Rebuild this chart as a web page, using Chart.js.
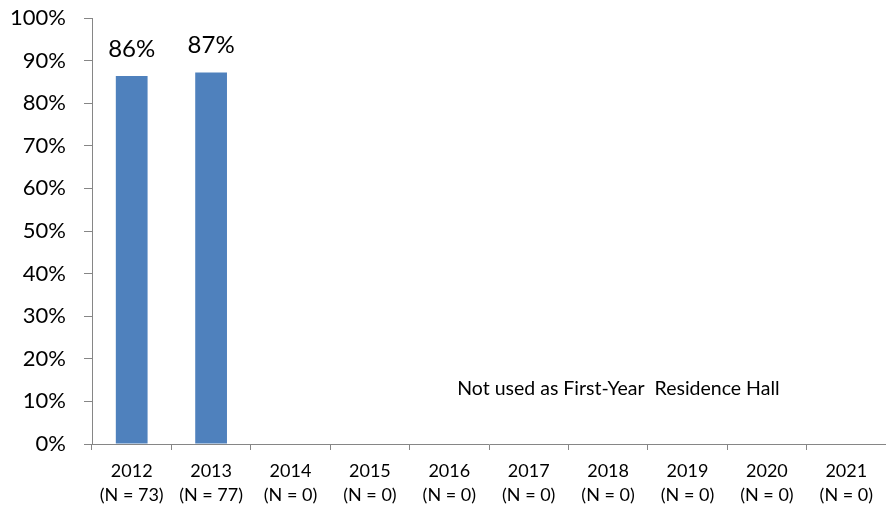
<!DOCTYPE html>
<html>
<head>
<meta charset="utf-8">
<script src="https://cdn.jsdelivr.net/npm/chart.js@4/dist/chart.umd.min.js"></script>
<style>
html,body{margin:0;padding:0;background:#fff;}
#wrap{width:886px;height:506px;}
</style>
</head>
<body>
<div id="wrap"><canvas id="c" width="886" height="506"></canvas></div>
<script>
const years = ['2012','2013','2014','2015','2016','2017','2018','2019','2020','2021'];
const nCounts = [73, 77, 0, 0, 0, 0, 0, 0, 0, 0];
const satisfaction = [86.4, 87.2, null, null, null, null, null, null, null, null];
const valueLabels = ['86%', '87%', '', '', '', '', '', '', '', ''];
const yTicks = [0,10,20,30,40,50,60,70,80,90,100];
const note = 'Not used as First-Year  Residence Hall';
const noteX = 4.1;   // category index position (left edge of text)
const noteY = 13.0;  // percent

const FONT = 'Lato, "Open Sans", sans-serif';
const AXIS = '#868686';

const labelPlugin = {
  id: 'labels',
  afterDatasetsDraw(chart) {
    const ctx = chart.ctx;
    const meta = chart.getDatasetMeta(0);
    ctx.save();
    ctx.fillStyle = '#000';
    ctx.font = '24px ' + FONT;
    ctx.textAlign = 'center';
    ctx.textBaseline = 'middle';
    meta.data.forEach((bar, i) => {
      if (satisfaction[i] == null) return;
      ctx.fillText(valueLabels[i], bar.x, bar.y - 27);
    });
    const xs = chart.scales.x, ys = chart.scales.y;
    ctx.font = '19.5px ' + FONT;
    ctx.textAlign = 'left';
    const x0 = xs.getPixelForValue(0), x1 = xs.getPixelForValue(1);
    ctx.fillText(note, x0 + (x1 - x0) * noteX, ys.getPixelForValue(noteY));
    ctx.restore();
  }
};

new Chart(document.getElementById('c'), {
  type: 'bar',
  data: {
    labels: years.map((y, i) => [y, '(N = ' + nCounts[i] + ')']),
    datasets: [{
      data: satisfaction,
      backgroundColor: '#4F81BD',
      borderWidth: 0,
      categoryPercentage: 1,
      barPercentage: 0.4
    }]
  },
  options: {
    responsive: false,
    animation: false,
    devicePixelRatio: 1,
    layout: { padding: { top: 18, right: 0, left: 0, bottom: 0 } },
    plugins: { legend: { display: false }, tooltip: { enabled: false } },
    scales: {
      x: {
        grid: { display: true, drawOnChartArea: false, drawTicks: true, tickLength: 6, color: AXIS, offset: true },
        border: { display: true, color: AXIS, width: 1 },
        ticks: { color: '#000', font: { family: FONT, size: 18, lineHeight: 1.33 }, padding: 9, maxRotation: 0, autoSkip: false },
        afterFit(s) { s.height = 62; s.paddingLeft = 0; s.paddingRight = 0; }
      },
      y: {
        min: 0, max: 100,
        afterBuildTicks(s) { s.ticks = yTicks.map(v => ({ value: v })); },
        grid: { display: true, drawOnChartArea: false, drawTicks: true, tickLength: 8, color: AXIS },
        border: { display: true, color: AXIS, width: 1 },
        ticks: { color: '#000', font: { family: FONT, size: 22 }, padding: 18, callback: v => v + '%' },
        afterFit(s) { s.width = 92; s.paddingTop = 0; s.paddingBottom = 0; }
      }
    }
  },
  plugins: [labelPlugin]
});
</script>
</body>
</html>
